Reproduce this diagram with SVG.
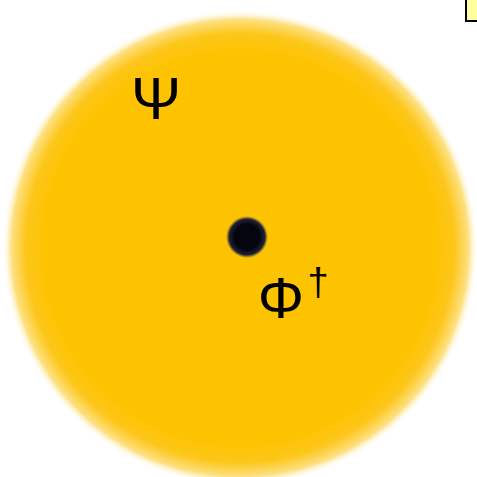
<svg xmlns="http://www.w3.org/2000/svg" width="477" height="477" viewBox="0 0 477 477">
<defs>
<radialGradient id="g" cx="0.5" cy="0.5" r="0.5">
<stop offset="0.82" stop-color="#FDC300"/>
<stop offset="0.9" stop-color="#FDC61A"/>
<stop offset="0.96" stop-color="#FDE080"/>
<stop offset="1" stop-color="#FFFFFF" stop-opacity="0"/>
</radialGradient>
<radialGradient id="d" cx="0.5" cy="0.5" r="0.5">
<stop offset="0.6" stop-color="#05050f"/>
<stop offset="0.85" stop-color="#202035"/>
<stop offset="1" stop-color="#404050" stop-opacity="0"/>
</radialGradient>
</defs>
<rect width="477" height="477" fill="#fff"/>
<g id="sphere"><circle cx="240" cy="248" r="238" fill="url(#g)"/></g>
<g id="box"><rect x="466" y="-2" width="14" height="23" fill="#FFFFA0" stroke="#000" stroke-width="2"/></g>
<g id="dot"><circle cx="247" cy="237" r="21" fill="url(#d)"/></g>
<g font-family="Liberation Sans, Arial, sans-serif" fill="#000">
<text x="156" y="119" font-size="60" text-anchor="middle">Ψ</text>
<text x="281" y="318" font-size="58" text-anchor="middle">Φ</text>
<text x="318" y="295" font-size="38" text-anchor="middle">†</text>
</g>
</svg>
